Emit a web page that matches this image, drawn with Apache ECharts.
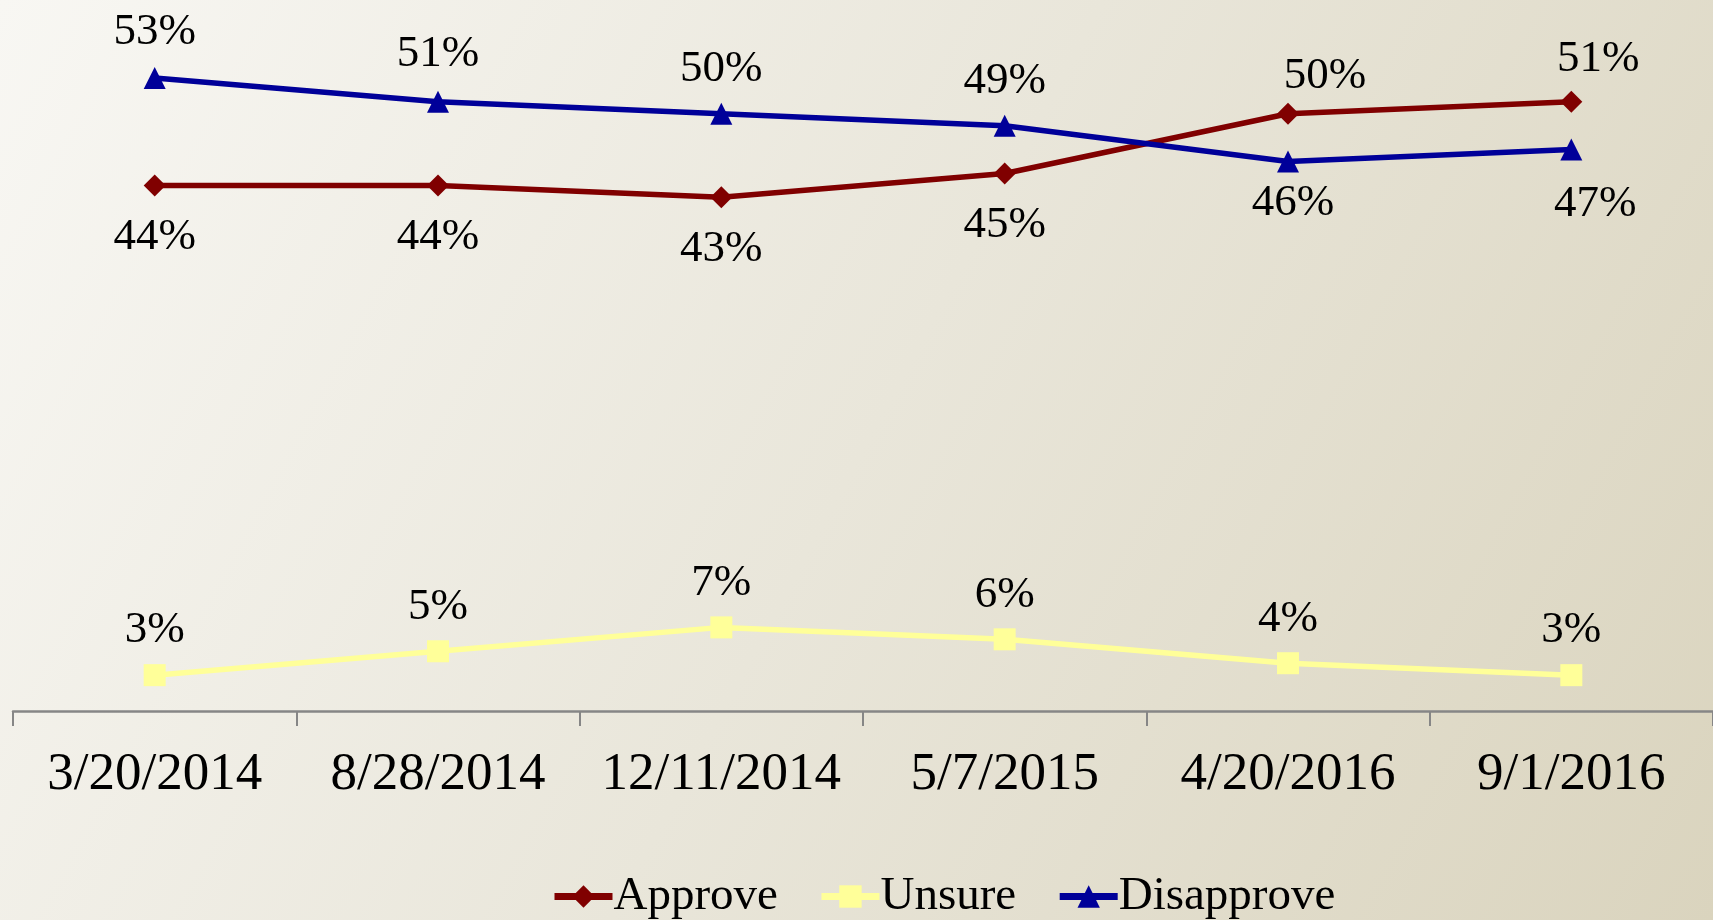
<!DOCTYPE html>
<html>
<head>
<meta charset="utf-8">
<script src="https://cdn.jsdelivr.net/npm/echarts@6/dist/echarts.min.js"></script>
<style>
    html, body { margin: 0; padding: 0; }
    #chart { width: 1713px; height: 920px; }
</style>
</head>
<body>
<div id="chart"></div>
<script>
// poll dates and results (percent)
const categories = ["3/20/2014", "8/28/2014", "12/11/2014", "5/7/2015", "4/20/2016", "9/1/2016"];
const approve = [44, 44, 43, 45, 50, 51];
const unsure = [3, 5, 7, 6, 4, 3];
const disapprove = [53, 51, 50, 49, 46, 47];

const font = "'Liberation Serif', 'Times New Roman', serif";

// Excel nudges a few labels around where the lines cross
function points(values, pos, tweaks) {
    return values.map(function(v, i) {
        let t = tweaks[i];
        if (!t) return v;
        return { value: v, label: { position: t.pos || pos, offset: t.offset || [0, 0] } };
    });
}

function lineSeries(name, color, symbol, values, pos, tweaks) {
    return {
        name: name,
        type: "line",
        data: points(values, pos, tweaks || {}),
        symbol: symbol,
        symbolSize: 22,
        lineStyle: { color: color, width: 5.5 },
        itemStyle: { color: color },
        label: {
            show: true,
            position: pos,
            distance: pos === "top" ? 11 : 18,
            formatter: "{c}%",
            color: "#000",
            fontFamily: font,
            fontSize: 45
        },
        emphasis: { disabled: true },
        animation: false
    };
}

let chart = echarts.init(document.getElementById("chart"));
let option = {
    backgroundColor: {
        type: "linear", x: 0, y: 0, x2: 1, y2: 1,
        colorStops: [
            { offset: 0, color: "#f8f7f3" },
            { offset: 0.5, color: "#e9e6da" },
            { offset: 1, color: "#dad4be" }
        ]
    },
    grid: { left: 13, right: 0, top: 54, bottom: 209 },
    legend: {
        left: 546,
        top: 868,
        itemWidth: 58,
        itemHeight: 28,
        itemGap: 40,
        lineStyle: { width: 7 },
        textStyle: { fontFamily: font, fontSize: 47, color: "#000", padding: [0, 0, 0, -4] },
        data: ["Approve", "Unsure", "Disapprove"]
    },
    xAxis: {
        type: "category",
        data: categories,
        boundaryGap: true,
        axisLine: { lineStyle: { color: "#868686", width: 2.5 } },
        axisTick: { show: true, length: 15, lineStyle: { color: "#868686", width: 2 } },
        axisLabel: { margin: 38, color: "#000", fontFamily: font, fontSize: 53, interval: 0 }
    },
    yAxis: {
        type: "value",
        min: 0,
        max: 55,
        show: false
    },
    series: [
        lineSeries("Approve", "#800000", "diamond", approve, "bottom", {
            4: { pos: "top", offset: [37, 14] },
            5: { pos: "top", offset: [27, 9] }
        }),
        lineSeries("Unsure", "#ffff99", "rect", unsure, "top"),
        lineSeries("Disapprove", "#000099", "triangle", disapprove, "top", {
            0: { offset: [0, -1] },
            1: { offset: [0, -3] },
            4: { pos: "bottom", offset: [5, -3] },
            5: { pos: "bottom", offset: [24, 10] }
        })
    ]
};
chart.setOption(option, true);
</script>
</body>
</html>
